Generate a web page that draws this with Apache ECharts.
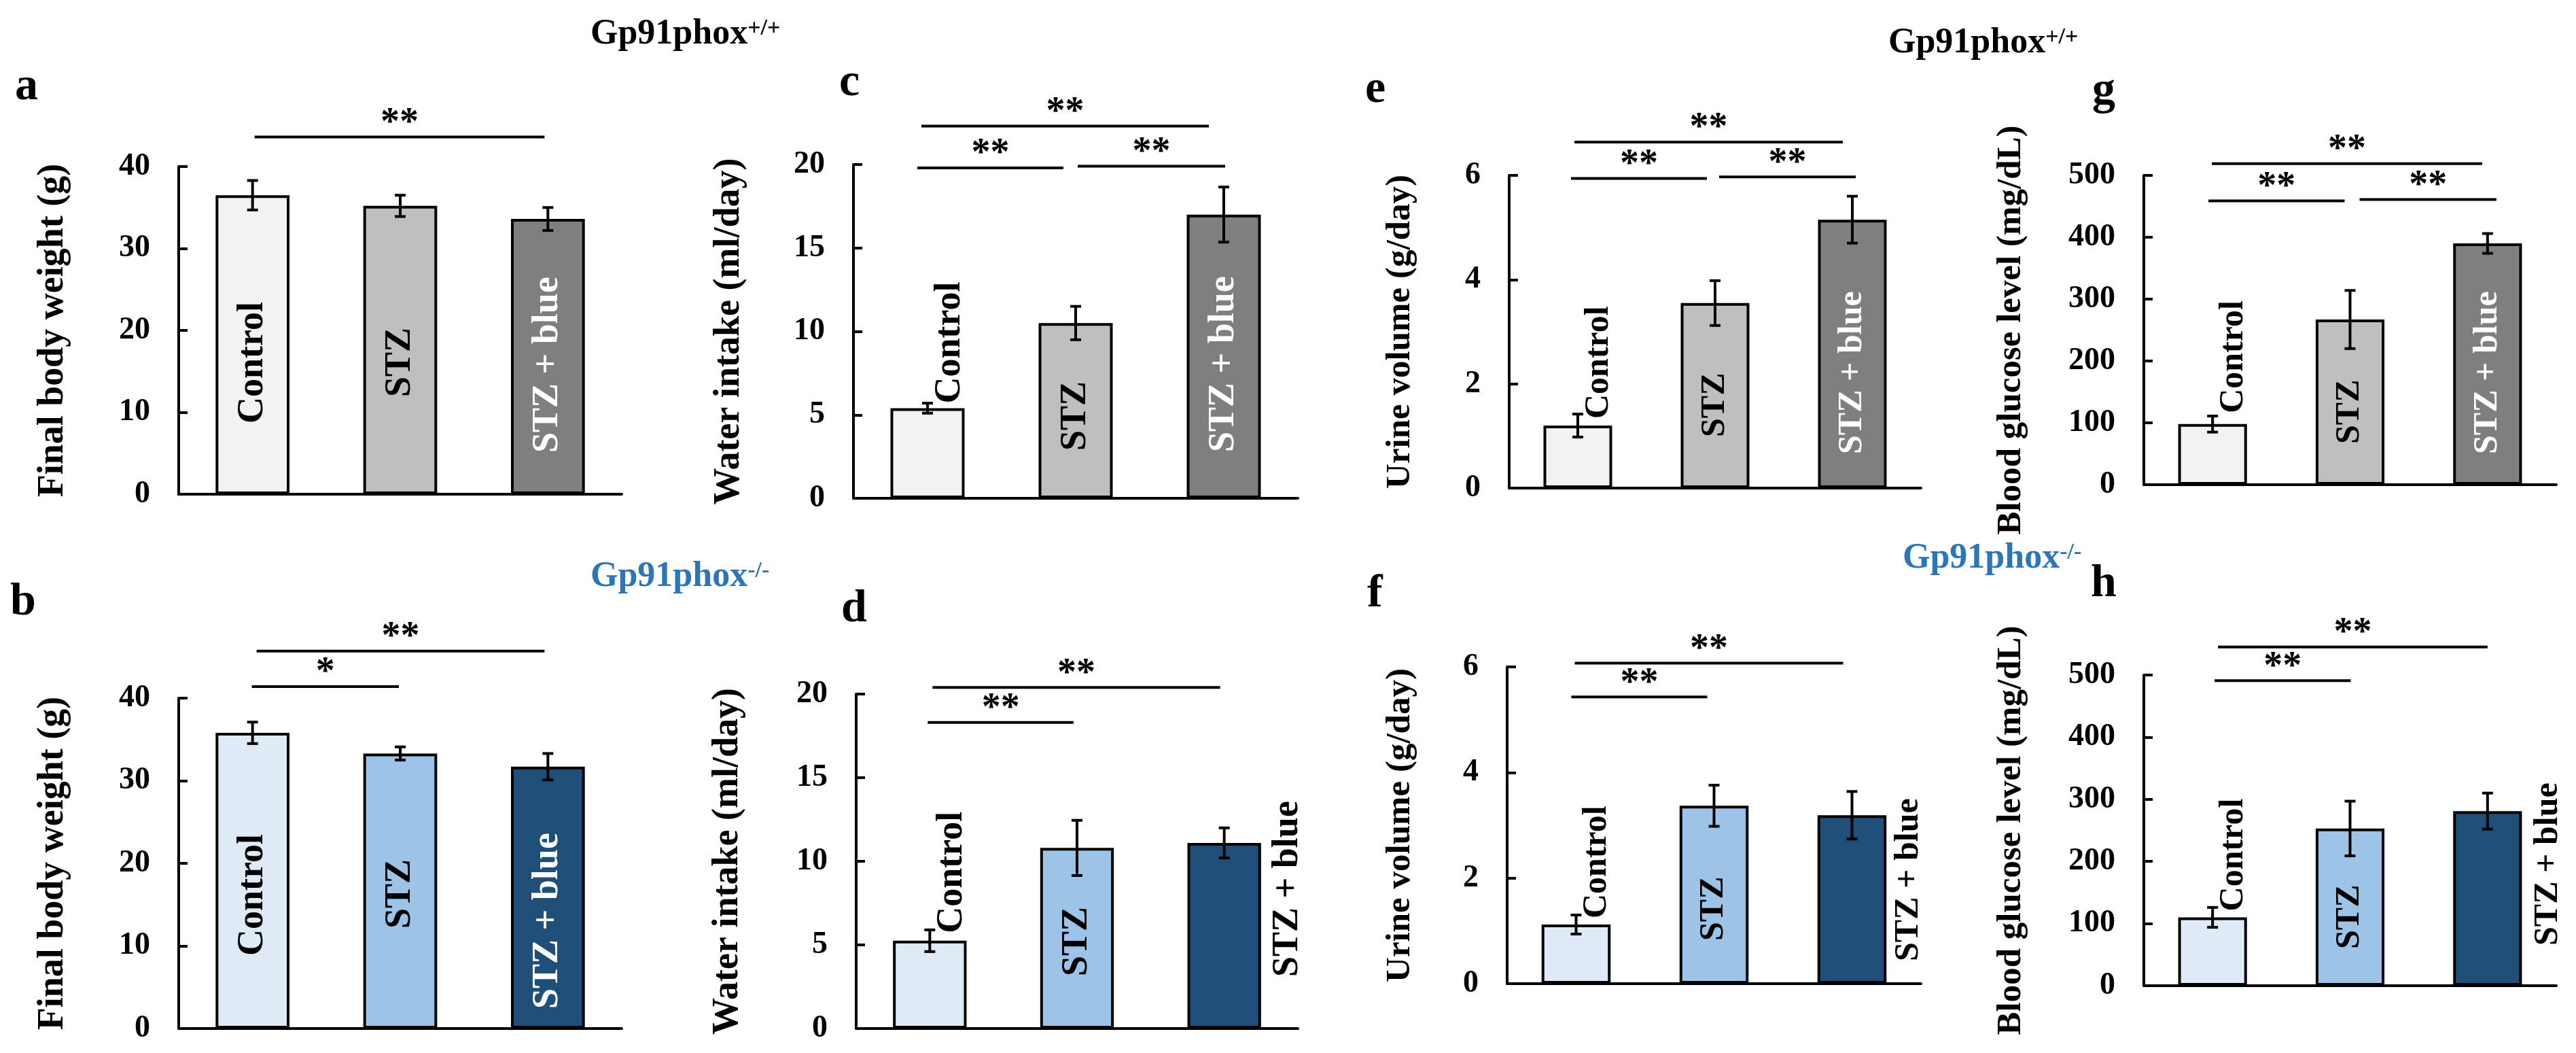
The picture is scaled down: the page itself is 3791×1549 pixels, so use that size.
<!DOCTYPE html>
<html>
<head>
<meta charset="utf-8">
<script src="https://cdn.jsdelivr.net/npm/echarts@6/dist/echarts.min.js"></script>
<style>html,body{margin:0;padding:0;background:#fff}#chart{width:3791px;height:1549px}</style>
</head>
<body>
<div id="chart"></div>
<script>
// ---------------- DATA ----------------
const categories = ['Control', 'STZ', 'STZ + blue'];

const bodyWeightWT = [36.5, 35.2, 33.6];
const bodyWeightWTErr = [1.8, 1.3, 1.4];
const bodyWeightKO = [35.8, 33.3, 31.7];
const bodyWeightKOErr = [1.3, 0.8, 1.6];

const waterWT = [5.4, 10.5, 17.0];
const waterWTErr = [0.3, 1.0, 1.65];
const waterKO = [5.25, 10.8, 11.1];
const waterKOErr = [0.65, 1.65, 0.9];

const urineWT = [1.2, 3.55, 5.15];
const urineWTErr = [0.22, 0.43, 0.45];
const urineKO = [1.12, 3.37, 3.19];
const urineKOErr = [0.18, 0.39, 0.45];

const glucoseWT = [98, 267, 390];
const glucoseWTErr = [13, 47, 16];
const glucoseKO = [110, 253, 281];
const glucoseKOErr = [16, 44, 29];

// y axis ranges [min, max, interval]
const weightTicks = [0, 40, 10];
const waterTicks = [0, 20, 5];
const urineTicks = [0, 6, 2];
const glucoseTicks = [0, 500, 100];

// significance comparisons [from, to, mark]
const sigA = [[0, 2, '**']];
const sigB = [[0, 1, '*'], [0, 2, '**']];
const sigC = [[0, 1, '**'], [1, 2, '**'], [0, 2, '**']];
const sigD = [[0, 1, '**'], [0, 2, '**']];
const sigE = [[0, 1, '**'], [1, 2, '**'], [0, 2, '**']];
const sigF = [[0, 1, '**'], [0, 2, '**']];
const sigG = [[0, 1, '**'], [1, 2, '**'], [0, 2, '**']];
const sigH = [[0, 1, '**'], [0, 2, '**']];

// ---------------- STYLE / LAYOUT ----------------
const FONT = '"Liberation Serif", "Times New Roman", serif';
const GRAYS = ['#F2F2F2', '#BFBFBF', '#7F7F7F'];
const BLUES = ['#DEEBF7', '#9DC3E6', '#1F4E79'];
const HEAD_BLUE = '#2E75B6';

const panels = [
  { letter: 'a', name: 'Final body weight (g)', v: bodyWeightWT, e: bodyWeightWTErr, t: weightTicks, col: GRAYS, sig: sigA,
    grid: [263, 245, 652, 482], nameGap: 158, nameSize: 54, barFont: 54,
    sigLevel: [43.6], sigOff: [[3, -5]],
    lab: [{ m: 'in', up: 104 }, { m: 'in', up: 143 }, { m: 'in', up: 61, c: '#fff' }], letterPos: [22, 94] },
  { letter: 'b', name: 'Final body weight (g)', v: bodyWeightKO, e: bodyWeightKOErr, t: weightTicks, col: BLUES, sig: sigB,
    grid: [263, 1027, 652, 486], nameGap: 158, nameSize: 54, barFont: 54,
    sigLevel: [41.4, 45.7], sigOff: [[-1, -2], [6, -5]],
    lab: [{ m: 'in', up: 107 }, { m: 'in', up: 147 }, { m: 'in', up: 29, c: '#fff' }], letterPos: [15, 852] },
  { letter: 'c', name: 'Water intake (ml/day)', v: waterWT, e: waterWTErr, t: waterTicks, col: GRAYS, sig: sigC,
    grid: [1256, 242, 654, 491], nameGap: 156, nameSize: 54, barFont: 54,
    sigLevel: [19.8, 19.9, 22.3], sigOff: [[-15, -18], [3, 2], [-9, -22]],
    lab: [{ m: 'top', up: 7, sh: 6 }, { m: 'in', up: 70 }, { m: 'in', up: 68, c: '#fff' }], letterPos: [1235, 88] },
  { letter: 'd', name: 'Water intake (ml/day)', v: waterKO, e: waterKOErr, t: waterTicks, col: BLUES, sig: sigD,
    grid: [1260, 1021, 650, 492], nameGap: 162, nameSize: 54, barFont: 54,
    sigLevel: [18.3, 20.4], sigOff: [[-3, -5], [4, -6]],
    lab: [{ m: 'top', up: 11, sh: 6 }, { m: 'in', up: 77 }, { m: 'right', up: 76, sh: 12 }], letterPos: [1238, 862] },
  { letter: 'e', name: 'Urine volume (g/day)', v: urineWT, e: urineWTErr, t: urineTicks, col: GRAYS, sig: sigE,
    grid: [2221, 258, 606, 460], nameGap: 135, nameSize: 51, barFont: 50,
    sigLevel: [5.94, 5.97, 6.64], sigOff: [[-10, -12], [6, 5], [-5, -14]],
    lab: [{ m: 'top', up: 10, sh: 6 }, { m: 'in', up: 75 }, { m: 'in', up: 50, c: '#fff' }], letterPos: [2009, 98] },
  { letter: 'f', name: 'Urine volume (g/day)', v: urineKO, e: urineKOErr, t: urineTicks, col: BLUES, sig: sigF,
    grid: [2218, 981, 609, 466], nameGap: 132, nameSize: 51, barFont: 50,
    sigLevel: [5.43, 6.07], sigOff: [[-7, -10], [-2, -13]],
    lab: [{ m: 'top', up: 9, sh: 6 }, { m: 'in', up: 63 }, { m: 'right', up: 33, sh: 8 }], letterPos: [2012, 840] },
  { letter: 'g', name: 'Blood glucose level (mg/dL)', v: glucoseWT, e: glucoseWTErr, t: glucoseTicks, col: GRAYS, sig: sigG,
    grid: [3155, 258, 607, 455], nameGap: 170, nameSize: 51, barFont: 50,
    sigLevel: [458.8, 461, 519], sigOff: [[-6, -8], [14, 13], [-1, -8]],
    lab: [{ m: 'top', up: 16, sh: 6 }, { m: 'in', up: 60 }, { m: 'in', up: 45, c: '#fff' }], letterPos: [3079, 101] },
  { letter: 'h', name: 'Blood glucose level (mg/dL)', v: glucoseKO, e: glucoseKOErr, t: glucoseTicks, col: BLUES, sig: sigH,
    grid: [3155, 993, 607, 457], nameGap: 170, nameSize: 51, barFont: 50,
    sigLevel: [491, 545], sigOff: [[3, 1], [8, 0]],
    lab: [{ m: 'top', up: 9, sh: 6 }, { m: 'in', up: 54 }, { m: 'right', up: 59, sh: 14 }], letterPos: [3077, 825] }
];

const headers = [
  { main: 'Gp91phox', sup: '+/+', color: '#000', pos: [869, 25] },
  { main: 'Gp91phox', sup: '+/+', color: '#000', pos: [2779, 38] },
  { main: 'Gp91phox', sup: '-/-', color: HEAD_BLUE, pos: [869, 823] },
  { main: 'Gp91phox', sup: '-/-', color: HEAD_BLUE, pos: [2800, 796] }
];

function makeLabel(p, i) {
  const L = p.lab[i];
  const lab = {
    show: true, formatter: categories[i], rotate: 90,
    fontFamily: FONT, fontWeight: 'bold', fontSize: p.barFont,
    color: L.c || '#000', align: 'left'
  };
  if (L.m === 'in') {
    lab.position = ['50%', '100%'];
    lab.verticalAlign = 'middle';
    lab.padding = [0, 0, 0, L.up];
  } else if (L.m === 'top') {
    lab.position = ['50%', 0];
    lab.verticalAlign = 'top';
    lab.padding = [L.sh, 0, 0, L.up];
  } else {
    lab.position = ['100%', '100%'];
    lab.verticalAlign = 'top';
    lab.padding = [L.sh, 0, 0, L.up];
  }
  return lab;
}

const option = {
  animation: false,
  backgroundColor: '#ffffff',
  title: [], grid: [], xAxis: [], yAxis: [], series: []
};

panels.forEach((p, k) => {
  option.grid.push({ left: p.grid[0], top: p.grid[1], width: p.grid[2], height: p.grid[3], containLabel: false, outerBoundsMode: 'none' });
  option.xAxis.push({
    type: 'category', gridIndex: k, data: categories,
    axisLine: { show: true, onZero: true, lineStyle: { color: '#000', width: 4 } },
    axisTick: { show: false }, axisLabel: { show: false }, splitLine: { show: false }
  });
  option.yAxis.push({
    type: 'value', gridIndex: k, min: p.t[0], max: p.t[1], interval: p.t[2],
    name: p.name, nameLocation: 'middle', nameRotate: 90, nameGap: p.nameGap,
    nameTextStyle: { fontFamily: FONT, fontWeight: 'bold', fontSize: p.nameSize, color: '#000' },
    axisLine: { show: true, lineStyle: { color: '#000', width: 4 } },
    axisTick: { show: true, inside: true, length: 13, lineStyle: { color: '#000', width: 4 } },
    axisLabel: { show: true, margin: 42, fontFamily: FONT, fontWeight: 'bold', fontSize: 46, color: '#000' },
    splitLine: { show: false }
  });
  option.series.push({
    type: 'bar', xAxisIndex: k, yAxisIndex: k, barWidth: '50%', silent: true,
    data: p.v.map((val, i) => ({
      value: val,
      itemStyle: { color: p.col[i], borderColor: '#000', borderWidth: 4 },
      label: makeLabel(p, i)
    }))
  });
  option.series.push({
    type: 'custom', xAxisIndex: k, yAxisIndex: k, clip: false, silent: true, z: 5,
    data: p.v.map((val, i) => [i, val, p.e[i]]),
    renderItem: (params, api) => {
      const i = api.value(0), m = api.value(1), d = api.value(2);
      const hi = api.coord([i, m + d]);
      const lo = api.coord([i, m - d]);
      const hw = 8;
      const st = { stroke: '#000', lineWidth: 4 };
      return {
        type: 'group', children: [
          { type: 'line', shape: { x1: hi[0], y1: hi[1], x2: lo[0], y2: lo[1] }, style: st },
          { type: 'line', shape: { x1: hi[0] - hw, y1: hi[1], x2: hi[0] + hw, y2: hi[1] }, style: st },
          { type: 'line', shape: { x1: lo[0] - hw, y1: lo[1], x2: lo[0] + hw, y2: lo[1] }, style: st }
        ]
      };
    }
  });
  option.series.push({
    type: 'custom', xAxisIndex: k, yAxisIndex: k, clip: false, silent: true, z: 5,
    data: p.sig.map((s, j) => [s[0], p.sigLevel[j]]),
    renderItem: (params, api) => {
      const j = params.dataIndex;
      const s = p.sig[j];
      const a = api.coord([s[0], p.sigLevel[j]]);
      const b = api.coord([s[1], p.sigLevel[j]]);
      const x1 = a[0] + p.sigOff[j][0], x2 = b[0] + p.sigOff[j][1];
      return {
        type: 'group', children: [
          { type: 'line', shape: { x1: x1, y1: a[1], x2: x2, y2: a[1] }, style: { stroke: '#000', lineWidth: 4 } },
          { type: 'text', x: (x1 + x2) / 2, y: a[1] + 9,
            style: { text: s[2], align: 'center', verticalAlign: 'bottom', font: 'bold 56px ' + FONT, fill: '#000' } }
        ]
      };
    }
  });
  option.title.push({
    text: p.letter, left: p.letterPos[0], top: p.letterPos[1], padding: 0,
    textStyle: { fontFamily: FONT, fontWeight: 'bold', fontSize: 68, color: '#000' }
  });
});

headers.forEach(h => {
  option.title.push({
    text: '{m|' + h.main + '}{s|' + h.sup + '}', left: h.pos[0], top: h.pos[1], padding: 0,
    textStyle: {
      rich: {
        m: { fontFamily: FONT, fontWeight: 'bold', fontSize: 52, color: h.color },
        s: { fontFamily: FONT, fontWeight: 'bold', fontSize: 34, color: h.color, verticalAlign: 'top' }
      }
    }
  });
});

const chart = echarts.init(document.getElementById('chart'), null, { renderer: 'canvas' });
chart.setOption(option);
</script>
</body>
</html>
